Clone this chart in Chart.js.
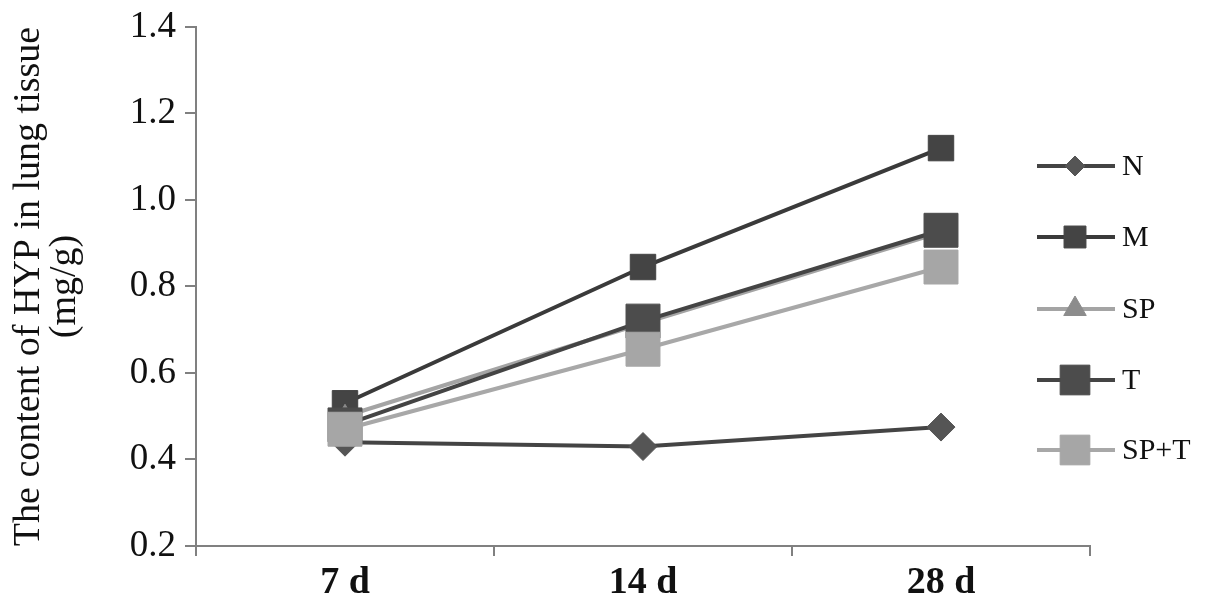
<!DOCTYPE html>
<html>
<head>
<meta charset="utf-8">
<script src="https://cdn.jsdelivr.net/npm/chart.js@4/dist/chart.umd.min.js"></script>
<style>
  html, body { margin: 0; padding: 0; background: #fff; }
  #wrap { width: 1205px; height: 606px; }
</style>
</head>
<body>
<div id="wrap"><canvas id="graph"></canvas></div>
<script>
const categories = ['7 d', '14 d', '28 d'];
const seriesN = [0.44, 0.43, 0.475];
const seriesM = [0.53, 0.845, 1.12];
const seriesSP = [0.5, 0.715, 0.925];
const seriesT = [0.48, 0.72, 0.93];
const seriesSPT = [0.47, 0.655, 0.845];

const serif = "'Liberation Serif', 'Times New Roman', serif";

// later series sit on top, as in the original
function ds(label, data, line, fill, style, radius, order) {
    return {
        label: label,
        data: data,
        order: order,
        borderColor: line,
        backgroundColor: fill,
        pointBackgroundColor: fill,
        pointBorderColor: fill,
        pointStyle: style,
        pointRadius: radius,
        pointHoverRadius: radius,
        borderWidth: 4,
        pointBorderWidth: 1,
        tension: 0
    };
}

const data = {
    labels: categories,
    datasets: [
        ds('N', seriesN, '#444444', '#555555', 'rectRot', 14, 5),
        ds('M', seriesM, '#3a3a3a', '#444444', 'rect', 18, 4),
        ds('SP', seriesSP, '#a4a4a4', '#8c8c8c', 'triangle', 12, 3),
        ds('T', seriesT, '#444444', '#4c4c4c', 'rect', 24, 2),
        ds('SP+T', seriesSPT, '#a8a8a8', '#a6a6a6', 'rect', 24, 1)
    ]
};

// legend on the right: a line sample with the marker on it
const sideLegend = {
    id: 'sideLegend',
    afterDraw(chart) {
        const ctx = chart.ctx;
        const x0 = 1037, x1 = 1115;
        const ys = [166, 237, 309, 380, 450];
        const sizes = [10, 15.5, 13, 21, 21];
        chart.data.datasets.forEach((d, i) => {
            const y = ys[i];
            ctx.save();
            ctx.strokeStyle = d.borderColor;
            ctx.lineWidth = 4;
            ctx.beginPath();
            ctx.moveTo(x0, y);
            ctx.lineTo(x1, y);
            ctx.stroke();
            ctx.fillStyle = d.pointBackgroundColor;
            ctx.strokeStyle = d.pointBorderColor;
            ctx.lineWidth = 1;
            Chart.helpers.drawPoint(ctx, {
                pointStyle: d.pointStyle,
                radius: sizes[i],
                borderWidth: 1
            }, 1075, y);
            ctx.fillStyle = '#111';
            ctx.font = "30px " + serif;
            ctx.textBaseline = 'middle';
            ctx.fillText(d.label, 1122, y + 1);
            ctx.restore();
        });
    }
};

const config = {
    type: 'line',
    data: data,
    plugins: [sideLegend],
    options: {
        responsive: false,
        animation: false,
        layout: {
            padding: { top: 27, right: 115, left: 10, bottom: 2 }
        },
        plugins: {
            legend: { display: false },
            tooltip: { enabled: false }
        },
        scales: {
            x: {
                offset: true,
                afterFit: (s) => { s.height = 58; },
                grid: {
                    display: true,
                    offset: true,
                    drawOnChartArea: false,
                    tickLength: 10,
                    color: '#808080',
                    lineWidth: 2
                },
                border: { color: '#808080', width: 2 },
                ticks: {
                    color: '#111',
                    padding: 4,
                    font: { family: serif, size: 38, weight: 'bold' }
                }
            },
            y: {
                min: 0.2,
                max: 1.4,
                afterFit: (s) => { s.width = 186; s.paddingTop = 0; s.paddingBottom = 0; },
                ticks: {
                    stepSize: 0.2,
                    color: '#111',
                    padding: 9,
                    font: { family: serif, size: 37 },
                    callback: (v) => v.toFixed(1)
                },
                grid: {
                    display: true,
                    drawOnChartArea: false,
                    tickLength: 11,
                    color: '#808080',
                    lineWidth: 2
                },
                border: { color: '#808080', width: 2 },
                title: {
                    display: true,
                    text: ['The content of HYP in lung tissue', '(mg/g)'],
                    color: '#111',
                    padding: { top: 1, bottom: 6 },
                    font: { family: serif, size: 38, lineHeight: 0.95 }
                }
            }
        }
    }
};

const graph = document.querySelector('#graph');
graph.width = 1205;
graph.height = 606;
new Chart(graph, config);
</script>
</body>
</html>
